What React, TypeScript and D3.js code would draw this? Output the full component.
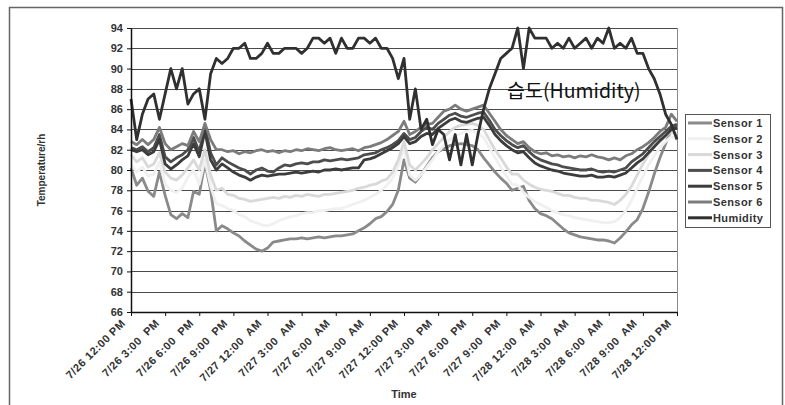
import React, { useEffect, useRef } from 'react';
import * as d3 from 'd3';

// readings every 30 minutes, 7/26 12:00 PM -> 7/28 12:00 PM
const tickLabels = [
  '7/26 12:00 PM', '7/26 3:00  PM', '7/26 6:00  PM', '7/26 9:00  PM',
  '7/27 12:00  AM', '7/27 3:00  AM', '7/27 6:00  AM', '7/27 9:00  AM',
  '7/27 12:00 PM', '7/27 3:00  PM', '7/27 6:00  PM', '7/27 9:00  PM',
  '7/28 12:00  AM', '7/28 3:00  AM', '7/28 6:00  AM', '7/28 9:00  AM',
  '7/28 12:00 PM',
];
const tickHours = [0, 3, 6, 9, 12, 15, 18, 21, 24, 27, 30, 33, 36, 39, 42, 45, 48];
const yTicks = [66, 68, 70, 72, 74, 76, 78, 80, 82, 84, 86, 88, 90, 92, 94];

const sensor1 = [
  80.2, 78.5, 79.2, 77.9, 77.4, 79.8, 77.5, 75.6, 75.2, 75.7,
  75.3, 77.9, 77.6, 80.7, 78, 74, 74.5, 74.2, 73.8, 73.5,
  73, 72.6, 72.2, 72, 72.3, 72.9, 73, 73.1, 73.2, 73.2,
  73.3, 73.2, 73.3, 73.4, 73.3, 73.4, 73.5, 73.5, 73.6, 73.7,
  74, 74.3, 74.7, 75.2, 75.4, 75.9, 76.6, 78, 81, 79.2,
  78.8, 79.5, 80.4, 81.2, 81.8, 82.1, 82.4, 82.5, 82.6, 82.5,
  82.4, 82, 81.2, 80.5, 79.8, 79.2, 78.7, 78, 78.2, 78.4,
  77, 76.2, 75.7, 75.5, 75.2, 74.7, 74.2, 73.8, 73.6, 73.4,
  73.3, 73.2, 73.1, 73.1, 73, 72.8, 73.3, 73.9, 74.6, 75.1,
  76.2, 77.8, 79.6, 81.2, 82.6, 84, 84.5,
];
const sensor2 = [
  80.5, 79.8, 80.3, 79.4, 79.6, 80.8, 78.6, 78, 77.8, 78.2,
  79.3, 80, 78.6, 81, 78.4, 76.7, 76.5, 76.2, 76, 75.6,
  75.4, 75, 74.8, 74.6, 74.5, 74.7, 75, 75.2, 75.4, 75.5,
  75.7, 75.8, 75.8, 76, 76, 76.1, 76.2, 76.2, 76.4, 76.6,
  76.8, 77, 77.3, 77.6, 78, 78.5, 79.2, 80.4, 82.2, 79.5,
  79, 79.5, 80.3, 81, 81.8, 82.4, 83, 83.4, 83.6, 83.8,
  83.9, 83.6, 83.2, 82.2, 81.2, 80.3, 79.4, 78.6, 78.5, 77.8,
  77.3, 76.9, 76.6, 76.3, 76, 75.8, 75.6, 75.5, 75.3, 75.2,
  75.1, 75, 74.9, 74.8, 74.8, 74.9, 75.3, 76, 77, 78.2,
  79.4, 80.5, 81.4, 82.2, 82.8, 83.3, 83,
];
const sensor3 = [
  81.5, 80.8, 81.2, 80.3, 80.6, 81.7, 79.8, 79.2, 79, 79.5,
  80.2, 81, 80, 82, 79.5, 78, 78.2, 77.6, 77.5, 77.2,
  77.1, 76.9, 77, 77.1, 77.2, 77.3, 77.2, 77.4, 77.3, 77.5,
  77.4, 77.6, 77.5, 77.4, 77.6, 77.6, 77.7, 77.8, 77.9, 78,
  78.2, 78.3, 78.5, 78.6, 78.9, 79.1, 79.8, 81, 82.8, 80.5,
  80, 80.6, 81.2, 82, 82.6, 83.2, 83.8, 84.2, 84.4, 84.5,
  84.6, 84.4, 84, 83, 82, 81.2, 80.3, 79.6, 79.6, 79,
  78.6, 78.3, 78.1, 78, 77.9, 77.7, 77.5, 77.5, 77.3, 77.2,
  77.2, 77, 77, 76.9, 76.8, 76.6, 77, 77.6, 78.4, 79.5,
  80.6, 81.5, 82.3, 82.8, 83.3, 83.8, 83.5,
];
const sensor4 = [
  82.2, 82, 82.3, 81.8, 82.2, 83.5, 81.3, 80.8, 81.2, 81.5,
  82, 83.2, 81.8, 84.3, 81.7, 80.5, 81.2, 80.8, 80.5, 80.2,
  80, 79.6, 80, 80.2, 79.9, 79.8, 80.2, 80.5, 80.4, 80.6,
  80.7, 80.6, 80.8, 80.8, 81, 80.9, 81, 81.1, 81, 81.1,
  81.2, 81.5, 81.6, 81.7, 82, 82.2, 82.5, 82.9, 83.6, 83,
  83.2, 83.8, 84.2, 84, 84.6, 85, 85.4, 85.6, 85.3, 85.2,
  85.4, 85.6, 85.7, 84.9, 84, 83.4, 82.9, 82.5, 82.2, 82.4,
  81.8, 81.3, 81, 80.8, 80.6, 80.5, 80.3, 80.2, 80.1, 80,
  80, 80.1, 79.9, 79.8, 79.9, 79.8, 80, 80.2, 80.8, 81.2,
  81.6, 82.2, 82.8, 83.3, 83.8, 84.3, 84.5,
];
const sensor5 = [
  82, 81.8, 82, 81.5, 81.8, 83, 80.6, 80.1, 80.5, 81,
  81.4, 82.6, 81.3, 83.8, 81, 80, 80.6, 80.2, 79.8, 79.5,
  79.3, 79, 79.3, 79.5, 79.4, 79.5, 79.6, 79.6, 79.7, 79.8,
  79.7, 79.8, 79.9, 79.8, 80, 80, 80.1, 80, 80.1, 80.2,
  80.2, 81, 81.1, 81.3, 81.6, 81.9, 82.2, 82.6, 83.3, 82.6,
  82.8, 83.3, 83.6, 83.5, 84.1, 84.5, 84.9, 85.1, 84.8, 84.7,
  84.9, 85.1, 85.2, 84.4, 83.5, 82.9, 82.4, 82, 81.7, 81.8,
  81.2, 80.7, 80.4, 80.2, 80, 79.9, 79.7, 79.6, 79.5, 79.4,
  79.4, 79.5, 79.3, 79.3, 79.4, 79.3, 79.5, 79.7, 80.2, 80.7,
  81.1, 81.7, 82.3, 82.9, 83.4, 84, 84.2,
];
const sensor6 = [
  82.8, 82.5, 83, 82.5, 83, 84.2, 82.6, 82, 82.3, 82.6,
  82.4, 83.8, 82.8, 84.6, 83, 82, 82, 81.8, 81.9, 81.6,
  81.8, 81.7, 81.9, 82, 81.8, 81.9, 81.7, 81.9, 81.8, 82,
  81.9, 82.1, 82, 81.9, 82.1, 82.2, 82, 81.9, 82, 82.1,
  81.9, 82.2, 82.3, 82.5, 82.7, 83, 83.4, 83.8, 84.8, 83.5,
  83.8, 84.2, 84.5, 84.6, 85.2, 85.8, 86, 86.4, 86, 85.8,
  86, 86.2, 86.4, 85.6, 84.8, 84, 83.4, 83, 82.6, 82.8,
  82.2, 81.8, 81.6, 81.7, 81.4, 81.5, 81.3, 81.4, 81.2, 81.4,
  81.3, 81.5, 81.3, 81.2, 81, 81.2, 81, 81.4, 81.6, 82,
  82.3, 82.7, 83.2, 83.8, 84.2, 85.5, 84.8,
];
const humidity = [
  87, 83, 85.5, 87, 87.5, 85, 87.5, 90, 88, 90,
  86.5, 87.5, 88, 85, 89.5, 91, 90.5, 91, 92, 92,
  92.5, 91, 91, 91.5, 92.5, 91.5, 91.5, 92, 92, 92,
  91.5, 92, 93, 93, 92.5, 93, 91.5, 93, 92, 92,
  93, 93, 92.5, 93, 92, 92, 91, 89, 91, 85,
  88, 84, 85, 82.5, 84, 83.5, 81, 83.5, 80.5, 83.5,
  80.5, 83.5, 86, 88, 89.5, 91, 91.5, 92, 94, 90,
  94, 93, 93, 93, 92, 92.5, 92, 93, 92, 92.5,
  93, 92, 93, 92.5, 94, 92, 92.5, 92, 93, 91.5,
  91.5, 90, 89, 87.5, 85.5, 84.5, 83,
];

const seriesNames = ['Sensor 1', 'Sensor 2', 'Sensor 3', 'Sensor 4', 'Sensor 5', 'Sensor 6', 'Humidity'];
const seriesValues = [sensor1, sensor2, sensor3, sensor4, sensor5, sensor6, humidity];
const seriesColors = ['#8a8a8a', '#f0f0f0', '#d9d9d9', '#4d4d4d', '#3c3c3c', '#7c7c7c', '#303030'];

const FONT = "'Liberation Sans', Arial, sans-serif";

const App = () => {
  const ref = useRef<HTMLDivElement>(null);

  useEffect(() => {
    if (!ref.current) return;
    const width = 785;
    const height = 405;
    const plot = { left: 131, right: 677, top: 28, bottom: 312 };

    d3.select(ref.current).selectAll('*').remove();

    const svg = d3.select(ref.current)
      .append('svg')
      .attr('width', width)
      .attr('height', height)
      .style('display', 'block')
      .style('background', '#fff');

    const x = d3.scaleLinear().domain([0, 48]).range([plot.left, plot.right]);
    const y = d3.scaleLinear().domain([66, 94]).range([plot.bottom, plot.top]);

    // chart frame
    svg.append('rect')
      .attr('x', 9.5).attr('y', 7.5)
      .attr('width', 773).attr('height', 420)
      .attr('fill', 'none')
      .attr('stroke', '#666')
      .attr('stroke-width', 1.5);

    // gridlines
    svg.append('g')
      .selectAll('line')
      .data(yTicks.filter(d => d > 66))
      .enter().append('line')
      .attr('x1', plot.left).attr('x2', plot.right)
      .attr('y1', d => Math.round(y(d)) + 0.5)
      .attr('y2', d => Math.round(y(d)) + 0.5)
      .attr('stroke', '#4a4a4a')
      .attr('stroke-width', 1);

    svg.append('line')
      .attr('x1', plot.right + 0.5).attr('x2', plot.right + 0.5)
      .attr('y1', plot.top).attr('y2', plot.bottom)
      .attr('stroke', '#8a8a8a');

    // series
    const line = d3.line<number>()
      .x((_, i) => x(i * 0.5))
      .y(d => y(d));

    svg.append('g')
      .selectAll('path')
      .data(seriesValues)
      .enter().append('path')
      .attr('d', d => line(d))
      .attr('fill', 'none')
      .attr('stroke', (_, i) => seriesColors[i])
      .attr('stroke-width', 2.8)
      .attr('stroke-linejoin', 'round');

    // y axis
    const yAxis = svg.append('g')
      .attr('transform', `translate(${plot.left},0)`)
      .call(d3.axisLeft(y).tickValues(yTicks).tickSize(4).tickPadding(4).tickSizeOuter(0));
    yAxis.select('.domain').attr('stroke', '#111').attr('stroke-width', 1.5);
    yAxis.selectAll('.tick line').attr('stroke', '#111');
    yAxis.selectAll('text')
      .style('font-family', FONT)
      .style('font-size', '11px')
      .style('font-weight', 'bold')
      .attr('fill', '#333');

    // x axis
    const xAxis = svg.append('g')
      .attr('transform', `translate(0,${plot.bottom})`)
      .call(d3.axisBottom(x).tickValues(tickHours).tickSize(4).tickSizeOuter(0).tickFormat(() => ''));
    xAxis.select('.domain').attr('stroke', '#111').attr('stroke-width', 1.5);
    xAxis.selectAll('.tick line').attr('stroke', '#111');

    svg.append('g')
      .selectAll('text')
      .data(tickHours)
      .enter().append('text')
      .attr('transform', d => `translate(${x(d) - 5},${plot.bottom + 12}) rotate(-45)`)
      .attr('text-anchor', 'end')
      .style('white-space', 'pre')
      .style('font-family', FONT)
      .style('font-size', '11px')
      .style('font-weight', 'bold')
      .style('letter-spacing', '0.5px')
      .attr('fill', '#333')
      .text((_, i) => tickLabels[i]);

    // axis titles
    svg.append('text')
      .attr('transform', `translate(45,170) rotate(-90)`)
      .attr('text-anchor', 'middle')
      .style('font-family', FONT)
      .style('font-size', '10px')
      .style('font-weight', 'bold')
      .attr('fill', '#333')
      .text('Temperature/rh');

    svg.append('text')
      .attr('x', (plot.left + plot.right) / 2)
      .attr('y', 398)
      .attr('text-anchor', 'middle')
      .style('font-family', FONT)
      .style('font-size', '11px')
      .style('font-weight', 'bold')
      .attr('fill', '#333')
      .text('Time');

    // annotation
    svg.append('text')
      .attr('x', 507)
      .attr('y', 98)
      .style('font-family', "'Noto Sans CJK KR', 'Noto Sans', sans-serif")
      .style('font-size', '19.5px')
      .attr('fill', '#111')
      .text('습도(Humidity)');

    // legend
    const legend = svg.append('g').attr('transform', 'translate(685,114)');
    legend.append('rect')
      .attr('x', 0.5).attr('y', 0.5)
      .attr('width', 85).attr('height', 113)
      .attr('fill', '#fff')
      .attr('stroke', '#555');

    const item = legend.selectAll('g.item')
      .data(seriesNames)
      .enter().append('g')
      .attr('class', 'item')
      .attr('transform', (_, i) => `translate(0,${9 + i * 15.8})`);
    item.append('line')
      .attr('x1', 3).attr('x2', 27)
      .attr('stroke', (_, i) => seriesColors[i])
      .attr('stroke-width', 3);
    item.append('text')
      .attr('x', 28)
      .attr('y', 4)
      .style('font-family', FONT)
      .style('font-size', '11px')
      .style('font-weight', 'bold')
      .style('letter-spacing', '0.4px')
      .attr('fill', '#333')
      .text(d => d);
  }, []);

  return <div ref={ref} style={{ position: 'absolute', left: 0, top: 0, width: 785, height: 405 }} />;
};

export default App;
